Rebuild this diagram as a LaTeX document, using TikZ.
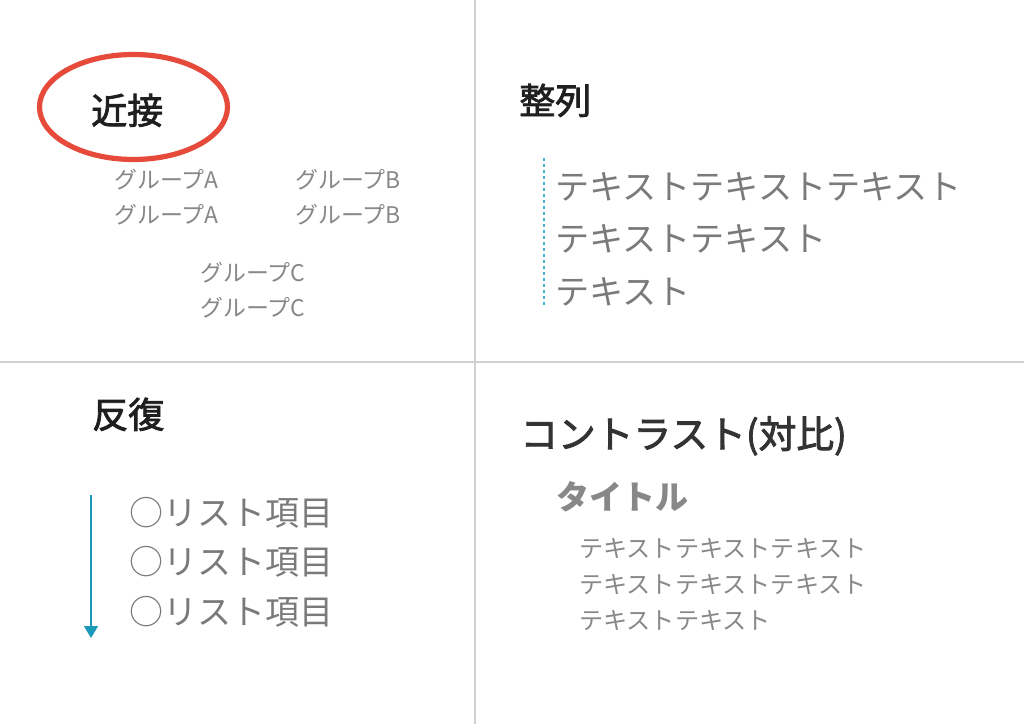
\documentclass[tikz,border=0pt]{standalone}
\usepackage{fontspec}
\setmainfont{Noto Sans CJK JP}
\newfontfamily\headfont[FakeBold=2.2]{Noto Sans CJK JP}
\usetikzlibrary{positioning,arrows.meta}

\definecolor{ruleGray}{HTML}{D0D0D0}
\definecolor{txtGray}{HTML}{888888}
\definecolor{hiRed}{HTML}{E64A3A}
\definecolor{dashBlue}{HTML}{45B4D2}
\definecolor{arrBlue}{HTML}{1A9AB8}

\begin{document}
\begin{tikzpicture}[x=0.75pt,y=-0.75pt,
        title/.style={inner sep=0pt, anchor=base west, text=black!88,
        font=\fontsize{27}{27}\headfont},
        grp/.style={inner sep=0pt, anchor=west, text=txtGray,
        font=\fontsize{17.2}{17.2}\selectfont, text height=18pt, text depth=8.25pt},
        line/.style={inner sep=0pt, anchor=west, text=txtGray!90!black,
        font=\fontsize{25.6}{25.6}\selectfont, text height=28pt, text depth=11pt},
        item/.style={inner sep=0pt, anchor=west, text=txtGray!90!black,
        font=\fontsize{25.5}{25.5}\selectfont, text height=27pt, text depth=10pt},
        body/.style={inner sep=0pt, anchor=west, text=txtGray,
        font=\fontsize{18.1}{18.1}\selectfont, text height=19pt, text depth=7.6pt}
        ]

        \useasboundingbox[fill=white] (0,0) rectangle (1024,724);

        % dividers
        \draw[ruleGray, line width=0.9pt] (475,0) -- (475,724);
        \draw[ruleGray, line width=0.9pt] (0,362) -- (1024,362);

        % proximity
        \node [title] (prox) at (91,124) {近接};
        \draw[hiRed, line width=3.9pt] (133.5,107) ellipse [x radius=94, y radius=52.5];

        \node [grp, anchor=base west] (ga1) at (114,188) {グループA};
        \node [grp] (ga2) [below = 0pt of ga1.south west, anchor=north west] {グループA};
        \node [grp, anchor=base west] (gb1) at (295,188) {グループB};
        \node [grp] (gb2) [below = 0pt of gb1.south west, anchor=north west] {グループB};
        \node [grp, anchor=base west] (gc1) at (200,281) {グループC};
        \node [grp] (gc2) [below = 0pt of gc1.south west, anchor=north west] {グループC};

        % alignment
        \node [title] (align) at (519,114) {整列};
        \node [line, anchor=base west] (al1) at (555,199) {テキストテキストテキスト};
        \node [line] (al2) [below = 0pt of al1.south west, anchor=north west] {テキストテキスト};
        \node [line] (al3) [below = 0pt of al2.south west, anchor=north west] {テキスト};
        \coordinate (dtop) at (544,158);
        \coordinate (dbot) at (544,305);
        \draw[dashBlue, line width=1.1pt, dash pattern=on 2.5pt off 2pt] (dtop) -- (dbot);

        % repetition
        \node [title] (rep) at (92,428) {反復};
        \node [item, anchor=base west] (li1) at (129,525) {○リスト項目};
        \node [item] (li2) [below = 0pt of li1.south west, anchor=north west] {○リスト項目};
        \node [item] (li3) [below = 0pt of li2.south west, anchor=north west] {○リスト項目};
        \coordinate (atop) at (91,495);
        \coordinate (abot) at (91,638);
        \draw[arrBlue, line width=1.1pt, -{Triangle[length=9pt,width=10.5pt]}] (atop) -- (abot);

        % contrast
        \node [title, text=black!80, font=\fontsize{28.3}{28.3}\headfont] (con) at (520,448) {コントラスト(対比)};
        \node [title, text=txtGray, font=\fontsize{24.8}{24.8}\selectfont\bfseries] (ttl) at (556,509) {タイトル};
        \node [body, anchor=base west] (ct1) at (579,557) {テキストテキストテキスト};
        \node [body] (ct2) [below = 0pt of ct1.south west, anchor=north west] {テキストテキストテキスト};
        \node [body] (ct3) [below = 0pt of ct2.south west, anchor=north west] {テキストテキスト};

\end{tikzpicture}
\end{document}
